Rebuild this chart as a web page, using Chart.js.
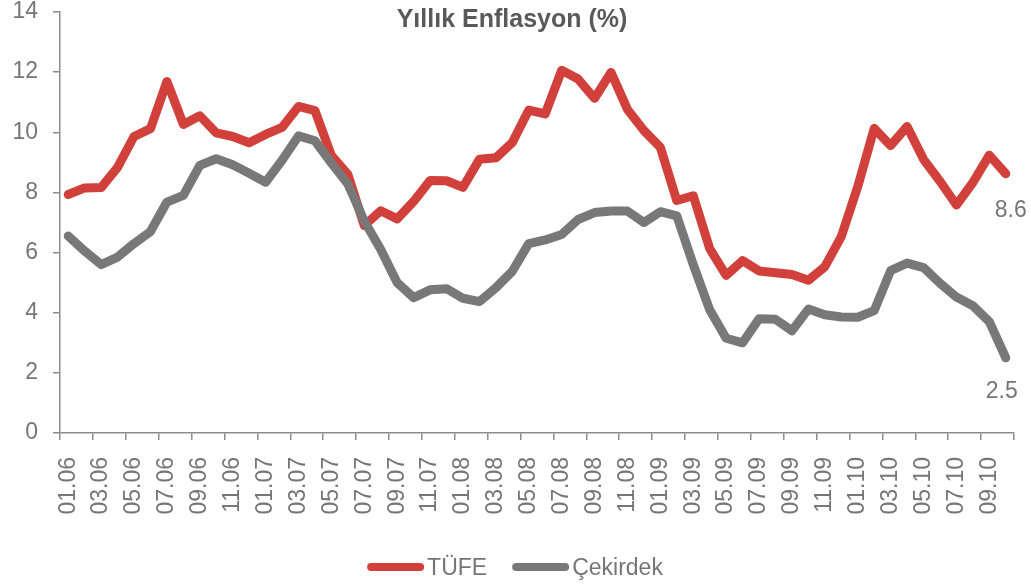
<!DOCTYPE html>
<html>
<head>
<meta charset="utf-8">
<script src="https://cdn.jsdelivr.net/npm/chart.js@4"></script>
<style>
  html, body { margin: 0; padding: 0; background: #fff; }
  #wrap { width: 1031px; height: 584px; }
</style>
</head>
<body>
<div id="wrap"><canvas id="inflationChart" width="1031" height="584"></canvas></div>
<script>
// Months (mm.yy), one per category
const months = [
    '01.06', '02.06', '03.06', '04.06', '05.06', '06.06', '07.06', '08.06', '09.06', '10.06', '11.06', '12.06',
    '01.07', '02.07', '03.07', '04.07', '05.07', '06.07', '07.07', '08.07', '09.07', '10.07', '11.07', '12.07',
    '01.08', '02.08', '03.08', '04.08', '05.08', '06.08', '07.08', '08.08', '09.08', '10.08', '11.08', '12.08',
    '01.09', '02.09', '03.09', '04.09', '05.09', '06.09', '07.09', '08.09', '09.09', '10.09', '11.09', '12.09',
    '01.10', '02.10', '03.10', '04.10', '05.10', '06.10', '07.10', '08.10', '09.10', '10.10'
];

// Annual CPI (TÜFE), %
const tufe = [
    7.93, 8.15, 8.16, 8.83, 9.86, 10.12, 11.69, 10.26, 10.55, 9.98, 9.86, 9.65,
    9.93, 10.16, 10.86, 10.72, 9.23, 8.60, 6.90, 7.39, 7.12, 7.70, 8.40, 8.39,
    8.17, 9.10, 9.15, 9.66, 10.74, 10.61, 12.06, 11.77, 11.13, 11.99, 10.76, 10.06,
    9.50, 7.73, 7.89, 6.13, 5.24, 5.73, 5.39, 5.33, 5.27, 5.08, 5.53, 6.53,
    8.19, 10.13, 9.56, 10.19, 9.10, 8.37, 7.58, 8.33, 9.24, 8.62
];

// Core inflation (Çekirdek), %
const cekirdek = [
    6.55, 6.05, 5.60, 5.85, 6.30, 6.70, 7.68, 7.90, 8.90, 9.12, 8.92, 8.64,
    8.34, 9.07, 9.88, 9.72, 8.98, 8.28, 7.05, 6.10, 5.00, 4.50, 4.76, 4.80,
    4.48, 4.37, 4.83, 5.38, 6.30, 6.42, 6.60, 7.10, 7.33, 7.38, 7.38, 7.00,
    7.36, 7.22, 5.60, 4.10, 3.15, 3.00, 3.80, 3.78, 3.40, 4.12, 3.93, 3.86,
    3.85, 4.07, 5.40, 5.65, 5.50, 4.98, 4.52, 4.23, 3.70, 2.50
];

const textGray = '#767676';
const axisGray = '#8c8c8c';
const red = '#d1403a';
const gray = '#787878';
const baseFont = 'Liberation Sans, Arial, sans-serif';
const fontSize = 23;

// Title, end-of-line value labels and bottom legend
const decorPlugin = {
    id: 'decor',
    afterDatasetsDraw(chart) {
        const ctx = chart.ctx;
        ctx.save();
        ctx.font = fontSize + 'px ' + baseFont;
        ctx.fillStyle = textGray;
        ctx.textAlign = 'left';
        ctx.textBaseline = 'alphabetic';
        chart.data.datasets.forEach((ds, i) => {
            const meta = chart.getDatasetMeta(i);
            const last = meta.data[meta.data.length - 1];
            const value = ds.data[ds.data.length - 1];
            ctx.fillText(value.toFixed(1), last.x + ds.endLabel.dx, last.y + ds.endLabel.dy);
        });
        ctx.restore();
    },
    afterDraw(chart) {
        const ctx = chart.ctx;
        ctx.save();

        // title
        ctx.font = 'bold 25px ' + baseFont;
        ctx.fillStyle = '#595959';
        ctx.textAlign = 'center';
        ctx.textBaseline = 'alphabetic';
        ctx.fillText('Yıllık Enflasyon (%)', 512, 27);

        // legend
        ctx.font = fontSize + 'px ' + baseFont;
        ctx.textAlign = 'left';
        const lineLen = 57, textGap = 3, itemGap = 25;
        const items = chart.data.datasets.map(ds => ({ label: ds.label, color: ds.borderColor }));
        let total = 0;
        items.forEach((it, i) => {
            it.w = ctx.measureText(it.label).width;
            total += lineLen + textGap + it.w + (i < items.length - 1 ? itemGap : 0);
        });
        let x = 515 - total / 2;
        const y = 567;
        items.forEach(it => {
            ctx.strokeStyle = it.color;
            ctx.lineWidth = 8;
            ctx.lineCap = 'round';
            ctx.beginPath();
            ctx.moveTo(x + 4, y);
            ctx.lineTo(x + lineLen - 4, y);
            ctx.stroke();
            ctx.fillStyle = textGray;
            ctx.fillText(it.label, x + lineLen + textGap, y + 8);
            x += lineLen + textGap + it.w + itemGap;
        });
        ctx.restore();
    }
};

const ctx = document.getElementById('inflationChart').getContext('2d');
const inflationChart = new Chart(ctx, {
    type: 'line',
    data: {
        labels: months,
        datasets: [
            {
                label: 'TÜFE',
                data: tufe,
                borderColor: red,
                backgroundColor: red,
                borderWidth: 9,
                borderJoinStyle: 'round',
                borderCapStyle: 'round',
                pointRadius: 0,
                tension: 0,
                order: 1,
                endLabel: { dx: -11, dy: 43 }
            },
            {
                label: 'Çekirdek',
                data: cekirdek,
                borderColor: gray,
                backgroundColor: gray,
                borderWidth: 9,
                borderJoinStyle: 'round',
                borderCapStyle: 'round',
                pointRadius: 0,
                tension: 0,
                order: 0,
                endLabel: { dx: -20, dy: 40 }
            }
        ]
    },
    options: {
        responsive: false,
        animation: false,
        layout: { padding: { top: 12, right: 17, left: 0, bottom: 0 } },
        plugins: {
            legend: { display: false },
            title: { display: false },
            tooltip: { enabled: false }
        },
        scales: {
            x: {
                offset: true,
                grid: {
                    offset: true,
                    drawOnChartArea: false,
                    drawTicks: true,
                    tickLength: 7,
                    lineWidth: 1.5,
                    color: c => (c.index === undefined || c.index % 2 === 0) ? axisGray : 'rgba(0,0,0,0)'
                },
                border: { display: true, color: axisGray, width: 1.5 },
                ticks: {
                    autoSkip: false,
                    minRotation: 90,
                    maxRotation: 90,
                    padding: 17,
                    color: textGray,
                    font: { family: baseFont, size: fontSize, lineHeight: 1 },
                    callback: (v, i) => i % 2 === 0 ? months[i] : ''
                },
                afterFit: s => {
                    s.height = 151;
                    s.paddingLeft = 0;
                    s.paddingRight = 0;
                }
            },
            y: {
                min: 0,
                max: 14,
                grid: {
                    drawOnChartArea: false,
                    drawTicks: true,
                    tickLength: 7,
                    lineWidth: 1.5,
                    color: axisGray
                },
                border: { display: true, color: axisGray, width: 1.5 },
                ticks: {
                    stepSize: 2,
                    padding: 15,
                    color: textGray,
                    font: { family: baseFont, size: fontSize, lineHeight: 1 }
                },
                afterFit: s => {
                    s.width = 60;
                    s.paddingTop = 0;
                    s.paddingBottom = 0;
                }
            }
        }
    },
    plugins: [decorPlugin]
});
</script>
</body>
</html>
